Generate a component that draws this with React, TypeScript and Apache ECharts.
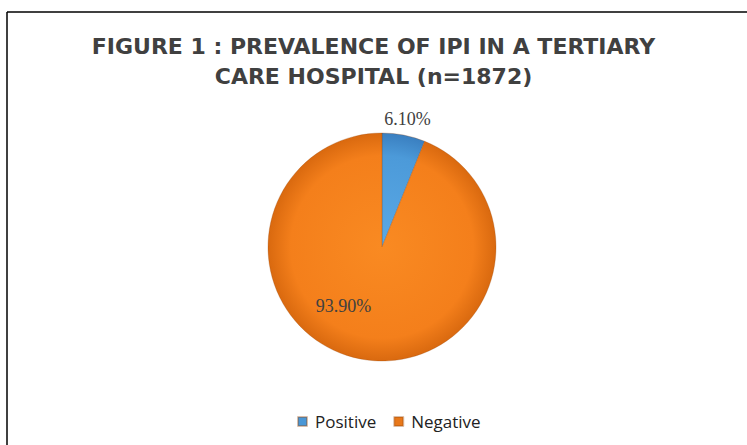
import React, { useEffect, useRef } from "react";
import * as echarts from "echarts";

const titleLines = ["FIGURE 1 : PREVALENCE OF IPI IN A TERTIARY", "CARE HOSPITAL (n=1872)"];
const categories = ["Positive", "Negative"];
const values = [6.1, 93.9];

const CX = 382;
const CY = 247;
const R = 114;

const radial = (stops: string[]) => ({
  type: "radial",
  x: CX,
  y: CY,
  r: R,
  global: true,
  colorStops: [
    { offset: 0, color: stops[0] },
    { offset: 0.8, color: stops[1] },
    { offset: 1, color: stops[2] },
  ],
});

const sliceColors = [
  radial(["#5aa9e6", "#4c9ad9", "#3a7fc0"]),
  radial(["#f98a22", "#f47f1b", "#d9690f"]),
];
const legendColors = ["#4a97d6", "#e8781a"];
const labelOffsets = [
  [14, -69],
  [-27, 0],
];

export default function App() {
  const ref = useRef<HTMLDivElement>(null);
  useEffect(() => {
    document.body.style.margin = "0";
    const chart = echarts.init(ref.current!, null, { renderer: "svg" });
    chart.setOption({
      animation: false,
      backgroundColor: "#ffffff",
      title: {
        text: titleLines.join("\n"),
        left: "center",
        top: 26,
        textStyle: {
          fontFamily: "DejaVu Sans",
          fontWeight: "bold",
          fontSize: 22,
          lineHeight: 30,
          color: "#404040",
        },
      },
      legend: {
        bottom: 10,
        left: 292,
        icon: "rect",
        itemWidth: 9,
        itemHeight: 9,
        itemGap: 17,
        textStyle: { fontFamily: "Open Sans", fontSize: 17, color: "#222", padding: [0, 0, 0, 3] },
        data: categories.map((c, i) => ({ name: c, itemStyle: { color: legendColors[i] } })),
      },
      graphic: [
        { type: "line", shape: { x1: 7, y1: 12, x2: 747, y2: 12 }, style: { stroke: "#000", lineWidth: 1.5 } },
        { type: "line", shape: { x1: 7, y1: 12, x2: 7, y2: 445 }, style: { stroke: "#000", lineWidth: 1.5 } },
      ],
      series: [
        {
          type: "pie",
          center: [CX, CY],
          radius: R,
          startAngle: 90,
          clockwise: true,
          labelLine: { show: false },
          itemStyle: { borderColor: "rgba(150,70,10,0.35)", borderWidth: 0.8 },
          data: categories.map((c, i) => ({
            name: c,
            value: values[i],
            itemStyle: { color: sliceColors[i] },
            label: {
              show: true,
              position: "inside",
              offset: labelOffsets[i],
              formatter: (p: any) => `${p.value.toFixed(2)}%`,
              fontFamily: "Liberation Serif",
              fontSize: 18,
              color: "#404040",
            },
          })),
        },
      ],
    });
    return () => chart.dispose();
  }, []);
  return <div ref={ref} style={{ width: 747, height: 445 }} />;
}
